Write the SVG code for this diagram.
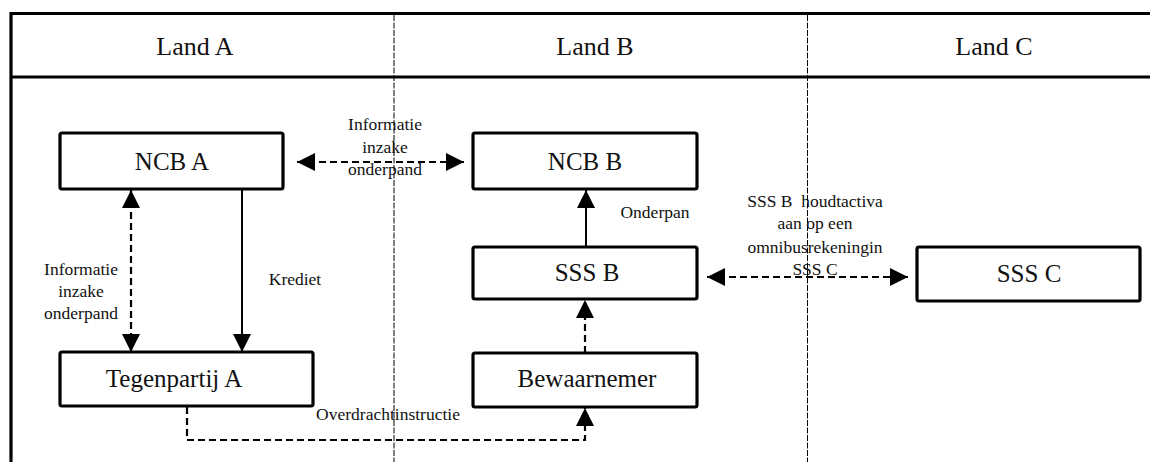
<svg xmlns="http://www.w3.org/2000/svg" width="1150" height="462" viewBox="0 0 1150 462">
<style>
text{font-family:"Liberation Serif","DejaVu Serif",serif;fill:#111;text-anchor:middle}
.hd{font-size:26px}
.nd{font-size:25px}
.lb{font-size:17.5px}
.box{fill:#fff;stroke:#000;stroke-width:3.2}
.frame{stroke:#000;stroke-width:3.2;fill:none}
.div{stroke:#000;stroke-width:1;stroke-dasharray:6,1.5;fill:none}
.c{stroke:#000;stroke-width:2;fill:none}
.d{stroke:#000;stroke-width:2.2;fill:none;stroke-dasharray:7,4}
</style>
<defs>
<marker id="ah" viewBox="0 0 18 18" refX="18" refY="9" markerWidth="18" markerHeight="18" markerUnits="userSpaceOnUse" orient="auto-start-reverse">
<path d="M0,0 L18,9 L0,18 Z" fill="#000"/>
</marker>
</defs>
<rect width="1150" height="462" fill="#fff"/>
<g id="frame">
<line class="frame" x1="11" y1="13.5" x2="1150" y2="13.5"/>
<line class="frame" x1="11" y1="77" x2="1150" y2="77"/>
<line class="frame" x1="11" y1="12" x2="11" y2="462"/>
<line class="div" x1="394" y1="15" x2="394" y2="462"/>
<line class="div" x1="807.5" y1="15" x2="807.5" y2="462"/>
<text class="hd" x="195" y="55">Land A</text>
<text class="hd" x="595" y="55">Land B</text>
<text class="hd" x="994" y="55">Land C</text>
</g>
<g id="connectors">
<line class="d" x1="297" y1="162" x2="464" y2="162" marker-start="url(#ah)" marker-end="url(#ah)"/>
<line class="d" x1="131" y1="190" x2="131" y2="352" marker-start="url(#ah)" marker-end="url(#ah)"/>
<line class="c" x1="242" y1="189" x2="242" y2="352" marker-end="url(#ah)"/>
<line class="c" x1="586" y1="247" x2="586" y2="190" marker-end="url(#ah)"/>
<line class="d" x1="585" y1="353" x2="585" y2="300" marker-end="url(#ah)"/>
<line class="d" x1="707" y1="277" x2="908" y2="277" marker-start="url(#ah)" marker-end="url(#ah)"/>
<polyline class="d" points="187,407 187,440 585,440 585,408" marker-end="url(#ah)"/>
<text class="lb" x="385" y="130">Informatie</text>
<text class="lb" x="385" y="153">inzake</text>
<text class="lb" x="385" y="175">onderpand</text>
<text class="lb" x="81" y="275">Informatie</text>
<text class="lb" x="81" y="297">inzake</text>
<text class="lb" x="81" y="319">onderpand</text>
<text class="lb" x="295" y="285">Krediet</text>
<text class="lb" x="655" y="218">Onderpan</text>
<text class="lb" x="815" y="207" xml:space="preserve">SSS B  houdtactiva</text>
<text class="lb" x="815" y="229">aan op een</text>
<text class="lb" x="815" y="253">omnibusrekeningin</text>
<text class="lb" x="815" y="275">SSS C</text>
<text class="lb" x="388" y="420">Overdrachtinstructie</text>
</g>
<g id="ncb-a"><rect class="box" x="60" y="133" width="223" height="56" rx="2"/><text class="nd" x="172" y="170">NCB A</text></g>
<g id="ncb-b"><rect class="box" x="473" y="133" width="224" height="56" rx="2"/><text class="nd" x="585" y="170">NCB B</text></g>
<g id="sss-b"><rect class="box" x="473" y="247" width="224" height="52" rx="2"/><text class="nd" x="587" y="281">SSS B</text></g>
<g id="sss-c"><rect class="box" x="917" y="247" width="223" height="54" rx="2"/><text class="nd" x="1029" y="282">SSS C</text></g>
<g id="tegenpartij-a"><rect class="box" x="60" y="352" width="253" height="54" rx="2"/><text class="nd" x="174" y="387">Tegenpartij A</text></g>
<g id="bewaarnemer"><rect class="box" x="473" y="353" width="224" height="54" rx="2"/><text class="nd" x="587" y="387">Bewaarnemer</text></g>
</svg>
